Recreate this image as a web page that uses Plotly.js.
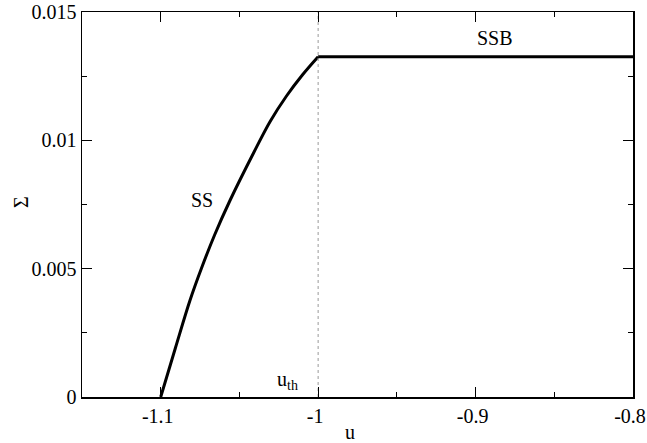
<!DOCTYPE html>
<html>
<head>
<meta charset="utf-8">
<script src="https://cdn.plot.ly/plotly-3.0.1.min.js"></script>
<style>html,body{margin:0;padding:0;background:#fff;}#chart{width:647px;height:443px;}</style>
</head>
<body>
<div id="chart"></div>
<script>
// SS branch (rising) then SSB plateau
const uSS = [-1.1, -1.09067, -1.08133, -1.07405, -1.06578, -1.0560, -1.04088, -1.03049, -1.0201, -1.00977, -1.0];
const sigmaSS = [0.0, 0.001909, 0.003779, 0.005026, 0.006312, 0.007656, 0.009526, 0.010734, 0.011727, 0.012565, 0.013258];
const uSSB = [-1.0, -0.8];
const sigmaSSB = [0.013258, 0.013258];
const uTh = -1.0;
const xTickVals = [-1.1, -1.0, -0.9, -0.8];
const xTickText = ['-1.1', '-1', '-0.9', '-0.8'];
const yTickVals = [0, 0.005, 0.01, 0.015];
const yTickText = ['0', '0.005', '0.01', '0.015'];

function mkFont() { return {family: 'Liberation Serif', size: 20, color: '#000000'}; }

const traces = [
  {x: uSS, y: sigmaSS, mode: 'lines', line: {color: '#000', width: 3, shape: 'spline', smoothing: 1}, hoverinfo: 'none'},
  {x: uSSB, y: sigmaSSB, mode: 'lines', line: {color: '#000', width: 3}, hoverinfo: 'none'},
  {x: [uTh, uTh], y: [0, 0.015], mode: 'lines', line: {color: '#999', width: 1, dash: 'dot'}, hoverinfo: 'none'}
];

function axisCommon() {
  return {
    showgrid: false, zeroline: false, showline: true, linecolor: '#000', linewidth: 1.5,
    mirror: 'allticks', ticks: 'inside', ticklen: 10, tickwidth: 1.2, tickcolor: '#000',
    tickfont: mkFont(), ticklabeloverflow: 'allow'
  };
}

const pw = 647 - 82 - 14, ph = 443 - 12 - 46;
const layout = {
  width: 647, height: 443,
  margin: {l: 82, r: 14, t: 12, b: 46},
  paper_bgcolor: '#fff', plot_bgcolor: '#fff',
  showlegend: false,
  font: mkFont(),
  xaxis: Object.assign(axisCommon(), {
    range: [-1.15, -0.8], tickmode: 'array', tickvals: xTickVals, ticktext: xTickText,
    ticklabelshift: -3,
    minor: {tickvals: [-1.05, -0.95, -0.85], ticks: 'inside', ticklen: 5, tickwidth: 1.2, tickcolor: '#000'}
  }),
  yaxis: Object.assign(axisCommon(), {
    range: [0, 0.015], tickmode: 'array', tickvals: yTickVals, ticktext: yTickText,
    minor: {tickvals: [0.0025, 0.0075, 0.0125], ticks: 'inside', ticklen: 5, tickwidth: 1.2, tickcolor: '#000'}
  }),
  annotations: [
    {x: -1.0735, y: 0.00768, xref: 'x', yref: 'y', text: 'SS', showarrow: false, xanchor: 'center', yanchor: 'middle', font: mkFont()},
    {x: -0.8878, y: 0.01399, xref: 'x', yref: 'y', text: 'SSB', showarrow: false, xanchor: 'center', yanchor: 'middle', font: mkFont()},
    {x: -1.0193, y: 0.00065, xref: 'x', yref: 'y', text: 'u<sub>th</sub>', showarrow: false, xanchor: 'center', yanchor: 'middle', font: mkFont()},
    {x: (350 - 82) / pw, y: (443 - 46 - 432) / ph, xref: 'paper', yref: 'paper', text: 'u', showarrow: false, xanchor: 'center', yanchor: 'middle', font: mkFont()},
    {x: (21 - 82) / pw, y: (443 - 46 - 202) / ph, xref: 'paper', yref: 'paper', text: 'Σ', showarrow: false, xanchor: 'center', yanchor: 'middle', textangle: -90, font: mkFont()}
  ]
};

Plotly.newPlot('chart', traces, layout, {staticPlot: true, displayModeBar: false});
</script>
</body>
</html>
